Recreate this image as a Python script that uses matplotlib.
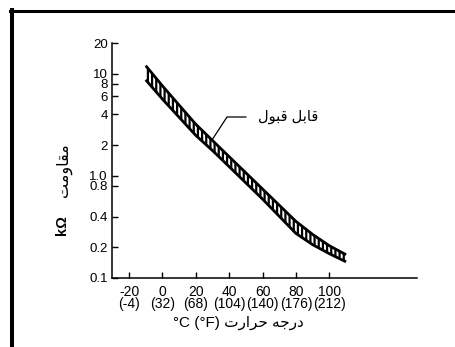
import numpy as np
import matplotlib
matplotlib.use("Agg")
import matplotlib.pyplot as plt
from matplotlib.lines import Line2D

plt.rcParams['font.family'] = ['Liberation Sans', 'DejaVu Sans']
plt.rcParams['hatch.linewidth'] = 1.6

# band of acceptable resistance (kOhm) vs temperature (degC)
temp_c = [-10, 0, 10, 20, 30, 40, 50, 60, 70, 80, 90, 100, 110]
upper_k = [12.0, 7.61, 4.93, 3.20, 2.22, 1.54, 1.07, 0.743, 0.516, 0.358, 0.267, 0.207, 0.169]
lower_k = [8.72, 5.65, 3.75, 2.49, 1.77, 1.23, 0.853, 0.592, 0.402, 0.273, 0.212, 0.173, 0.144]

x_ticks = [-20, 0, 20, 40, 60, 80, 100]
x_labels = ['-20\n(-4)', '0\n(32)', '20\n(68)', '40\n(104)', '60\n(140)', '80\n(176)', '100\n(212)']
y_ticks = [0.1, 0.2, 0.4, 0.8, 1.0, 2, 4, 6, 8, 10, 20]
y_labels = ['0.1', '0.2', '0.4', '0.8', '1.0', '2', '4', '6', '8', '10', '20']

# arabic text, presentation forms in visual order
band_label = '\ufedd\ufeee\ufe92\ufed7 \ufede\ufe91\ufe8e\ufed7'          # قابل قبول
y_title = '\ufe96\ufee3\ufeed\ufe8e\ufed8\ufee3'                          # مقاومت
x_title = '\ufe95\ufead\ufe8d\ufeae\ufea3 \ufeea\ufe9f\ufead\ufea9'       # درجه حرارت

fig = plt.figure(figsize=(4.56, 3.47), dpi=100)
ax = fig.add_axes([112/456, 69/347, 305/456, 235/347])

ax.fill_between(temp_c, lower_k, upper_k, facecolor='white', edgecolor='black',
                hatch='||||', linewidth=0)
ax.plot(temp_c, upper_k, color='black', lw=2.0, solid_capstyle='butt')
ax.plot(temp_c, lower_k, color='black', lw=2.0, solid_capstyle='butt')

# leader line to the label
t0 = 30
v0 = 10 ** np.interp(t0, temp_c, np.log10(upper_k)) * 1.03
ax.plot([t0, 38.7, 50], [v0, 3.77, 3.77], color='black', lw=0.9)
ax.text(57, 3.77, band_label, fontsize=10.5, va='center', ha='left')

ax.set_yscale('log')
ax.set_xlim(-30.2, 152.5)
ax.set_ylim(0.1, 20)
ax.set_xticks(x_ticks)
ax.set_xticklabels(x_labels)
ax.set_yticks(y_ticks)
ax.set_yticklabels(y_labels)
ax.yaxis.set_minor_locator(matplotlib.ticker.NullLocator())
for lab in ax.get_xticklabels():
    lab.set_linespacing(0.85)
ax.tick_params(direction='in', length=4, width=1, labelsize=9.5, pad=3)
ax.tick_params(axis='x', labelsize=10, pad=5)
for s in ['top', 'right']:
    ax.spines[s].set_visible(False)
for s in ['left', 'bottom']:
    ax.spines[s].set_linewidth(1.1)

fig.text(238/456, 1 - 323/347, '°C (°F) ' + x_title, fontsize=11, ha='center', va='center')
fig.text(62/456, 1 - 225/347, 'kΩ', fontsize=10.5, fontweight='bold', rotation=90,
         ha='center', va='center')
fig.text(64/456, 1 - 170/347, y_title, fontsize=11.5, rotation=90, ha='center', va='center')

# page frame
fig.add_artist(Line2D([12/456, 12/456], [0, 1 - 10/347], color='black', lw=2.9,
                      transform=fig.transFigure))
fig.add_artist(Line2D([10/456, 1], [1 - 10.5/347, 1 - 10.5/347], color='black', lw=2.2,
                      transform=fig.transFigure))

fig.savefig('out.png', dpi=100)
